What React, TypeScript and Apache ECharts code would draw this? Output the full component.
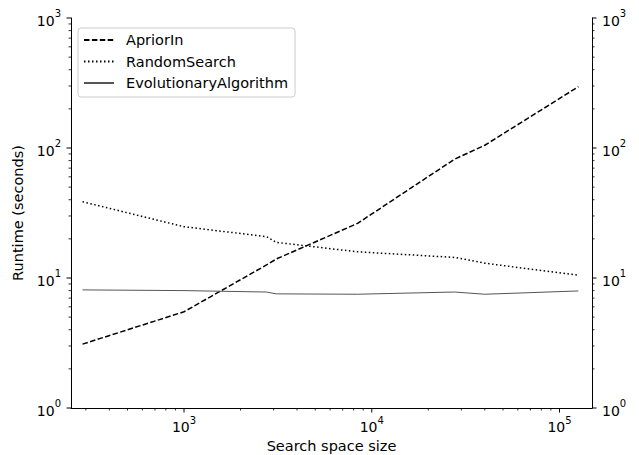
import React, { useEffect, useRef } from "react";
import * as echarts from "echarts";

const sizes = [288, 1000, 2750, 3100, 8400, 27600, 40000, 126000];
const aprioriIn = [3.1, 5.5, 12.6, 14.0, 26.3, 82, 105, 296];
const randomSearch = [38.6, 24.8, 20.8, 18.8, 15.9, 14.4, 13.0, 10.5];
const evolutionary = [8.1, 8.0, 7.8, 7.55, 7.5, 7.8, 7.5, 7.95];

const xMin = 250;
const xMax = 149000;
const yMin = 1;
const yMax = 1000;

const xMajor = [1000, 10000, 100000];
const xMinor = [300, 400, 500, 600, 700, 800, 900, 2000, 3000, 4000, 5000, 6000, 7000, 8000, 9000, 20000, 30000, 40000, 50000, 60000, 70000, 80000, 90000];
const yMajor = [1, 10, 100, 1000];
const yMinor = [2, 3, 4, 5, 6, 7, 8, 9, 20, 30, 40, 50, 60, 70, 80, 90, 200, 300, 400, 500, 600, 700, 800, 900];

const FONT = "DejaVu Sans";

function powLabel(value: number) {
  const e = Math.round(Math.log10(value));
  if (Math.abs(value - Math.pow(10, e)) > 1e-6 * value) return "";
  return `{b|10}{s|${e}}`;
}

const rich = {
  b: { fontSize: 14, fontFamily: FONT, color: "#000", verticalAlign: "bottom", lineHeight: 19 },
  s: { fontSize: 10, fontFamily: FONT, color: "#000", verticalAlign: "top", lineHeight: 13 },
};

export default function App() {
  const ref = useRef<HTMLDivElement>(null);
  useEffect(() => {
    if (!ref.current) return;
    const chart = echarts.init(ref.current, undefined, { renderer: "svg" });

    // tick data: [x, y, kind]; kind 0 x-minor,1 x-major,2 yL-minor,3 yL-major,4 yR-minor,5 yR-major
    const tickData: number[][] = [];
    xMinor.forEach((v) => tickData.push([v, yMin, 0]));
    xMajor.forEach((v) => tickData.push([v, yMin, 1]));
    yMinor.forEach((v) => tickData.push([xMin, v, 2]));
    yMajor.forEach((v) => tickData.push([xMin, v, 3]));
    yMinor.forEach((v) => tickData.push([xMax, v, 4]));
    yMajor.forEach((v) => tickData.push([xMax, v, 5]));

    const axisLine = { show: true, lineStyle: { color: "#000", width: 1 } };

    chart.setOption({
      animation: false,
      backgroundColor: "#fff",
      grid: { left: 71, right: 47, top: 18, bottom: 47, outerBoundsMode: "none", containLabel: false },
      legend: {
        data: ["ApriorIn", "RandomSearch", "EvolutionaryAlgorithm"],
        orient: "vertical",
        left: 78,
        top: 28,
        padding: [4, 7, 6, 5],
        itemWidth: 30,
        itemHeight: 10,
        itemGap: 5.5,
        borderColor: "#cccccc",
        borderWidth: 1,
        borderRadius: 3,
        backgroundColor: "rgba(255,255,255,0.8)",
        itemStyle: { opacity: 0 },
        textStyle: { fontFamily: FONT, fontSize: 14.5, color: "#000", padding: [0, 0, 0, 7], lineHeight: 16 },
      },
      xAxis: {
        type: "log",
        logBase: 10,
        min: xMin,
        max: xMax,
        name: "Search space size",
        nameLocation: "middle",
        nameGap: 30,
        nameTextStyle: { fontFamily: FONT, fontSize: 14.5, color: "#000" },
        axisLine,
        axisTick: { show: false },
        splitLine: { show: false },
        axisLabel: { formatter: powLabel, rich, margin: 7, showMinLabel: false, showMaxLabel: false },
      },
      yAxis: [
        {
          type: "log",
          logBase: 10,
          min: yMin,
          max: yMax,
          position: "left",
          name: "Runtime (seconds)",
          nameLocation: "middle",
          nameGap: 41,
          nameTextStyle: { fontFamily: FONT, fontSize: 14.5, color: "#000" },
          axisLine,
          axisTick: { show: false },
          splitLine: { show: false },
          axisLabel: { formatter: powLabel, rich, margin: 10 },
        },
        {
          type: "log",
          logBase: 10,
          min: yMin,
          max: yMax,
          position: "right",
          axisLine,
          axisTick: { show: false },
          splitLine: { show: false },
          axisLabel: { formatter: powLabel, rich, margin: 10 },
        },
      ],
      series: [
        {
          name: "ApriorIn",
          type: "line",
          data: sizes.map((s, i) => [s, aprioriIn[i]]),
          showSymbol: false,
          symbol: "none",
          lineStyle: { color: "#000", width: 1.5, type: [5.5, 2.4] },
          itemStyle: { color: "#000" },
        },
        {
          name: "RandomSearch",
          type: "line",
          data: sizes.map((s, i) => [s, randomSearch[i]]),
          showSymbol: false,
          symbol: "none",
          lineStyle: { color: "#000", width: 1.5, type: [1.5, 2.5] },
          itemStyle: { color: "#000" },
        },
        {
          name: "EvolutionaryAlgorithm",
          type: "line",
          data: sizes.map((s, i) => [s, evolutionary[i]]),
          showSymbol: false,
          symbol: "none",
          lineStyle: { color: "#555", width: 1 },
          itemStyle: { color: "#555" },
        },
        {
          name: "ticks",
          type: "custom",
          silent: true,
          clip: false,
          data: tickData,
          renderItem: (params: any, api: any) => {
            const x = api.value(0);
            const y = api.value(1);
            const kind = api.value(2);
            const p = api.coord([x, y]);
            const major = kind % 2 === 1;
            const len = major ? 4.5 : 2.5;
            let shape;
            if (kind <= 1) shape = { x1: p[0], y1: p[1], x2: p[0], y2: p[1] + len };
            else if (kind <= 3) shape = { x1: p[0] - len, y1: p[1], x2: p[0], y2: p[1] };
            else shape = { x1: p[0], y1: p[1], x2: p[0] + len, y2: p[1] };
            return {
              type: "line",
              shape,
              style: { stroke: "#000", lineWidth: major ? 1 : 0.8 },
            };
          },
        },
      ],
    });
    return () => chart.dispose();
  }, []);
  return (
    <div
      ref={ref}
      style={{ position: "fixed", left: 0, top: 0, width: 639, height: 455, background: "#fff" }}
    />
  );
}
